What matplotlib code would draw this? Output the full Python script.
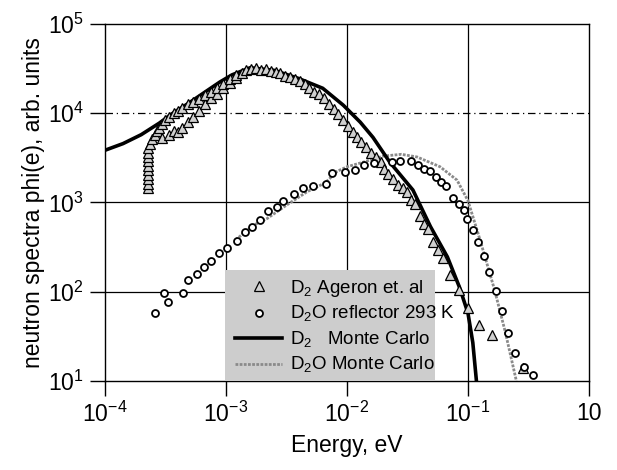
import matplotlib
matplotlib.use("Agg")
import matplotlib.pyplot as plt
import numpy as np
from matplotlib.lines import Line2D
from matplotlib.patches import Rectangle

plt.rcParams['font.family'] = ['Liberation Sans', 'DejaVu Sans']
plt.rcParams['mathtext.fontset'] = 'custom'
plt.rcParams['mathtext.rm'] = 'Liberation Sans'

# ---- data (log10 values) ----
# D2 Ageron et al. (triangles)
ageron_logE = [-3.64, -3.64, -3.64, -3.64, -3.64, -3.64, -3.64, -3.64, -3.64, -3.64,
               -3.63, -3.61, -3.59, -3.57, -3.55, -3.53, -3.53, -3.50, -3.47, -3.47,
               -3.43, -3.43, -3.40, -3.40, -3.36, -3.36, -3.31, -3.31, -3.27, -3.27,
               -3.22, -3.22, -3.17, -3.17, -3.12, -3.12, -3.07, -3.07, -3.02, -3.02,
               -2.97, -2.97, -2.92, -2.92, -2.87, -2.83, -2.79, -2.75, -2.71, -2.67,
               -2.63, -2.59, -2.55, -2.51, -2.47, -2.43, -2.39, -2.35, -2.31, -2.27,
               -2.23, -2.19, -2.15, -2.11, -2.07, -2.03, -1.99, -1.95, -1.92, -1.88,
               -1.84, -1.80, -1.76, -1.72, -1.69, -1.66, -1.62, -1.58, -1.54, -1.50,
               -1.47, -1.44, -1.40, -1.36, -1.33, -1.29, -1.25, -1.21, -1.15, -1.07,
               -1.00, -0.91, -0.80, -0.545]
ageron_logPhi = [3.16, 3.21, 3.26, 3.31, 3.36, 3.41, 3.46, 3.51, 3.56, 3.61,
                 3.66, 3.71, 3.76, 3.80, 3.84, 3.72, 3.88, 3.92, 3.76, 3.96,
                 3.80, 4.00, 3.79, 4.03, 3.84, 4.06, 3.90, 4.10, 3.96, 4.13,
                 4.02, 4.16, 4.10, 4.20, 4.17, 4.24, 4.22, 4.28, 4.28, 4.33,
                 4.34, 4.38, 4.40, 4.43, 4.45, 4.48, 4.50, 4.51, 4.49, 4.50,
                 4.47, 4.46, 4.45, 4.42, 4.41, 4.38, 4.36, 4.33, 4.28, 4.24,
                 4.22, 4.17, 4.10, 4.05, 3.99, 3.93, 3.86, 3.79, 3.73, 3.68,
                 3.62, 3.56, 3.51, 3.45, 3.38, 3.32, 3.26, 3.20, 3.16, 3.12,
                 3.03, 2.98, 2.85, 2.76, 2.70, 2.56, 2.47, 2.38, 2.19, 2.02,
                 1.82, 1.63, 1.51, 1.15]

# D2O reflector 293 K (circles)
refl_logE = [-3.587, -3.51, -3.477, -3.353, -3.317, -3.242, -3.182, -3.127, -3.055, -2.994,
             -2.912, -2.843, -2.788, -2.72, -2.65, -2.58, -2.53, -2.44, -2.36, -2.28,
             -2.17, -2.12, -2.02, -1.93, -1.86, -1.78, -1.63, -1.56, -1.47, -1.41,
             -1.36, -1.31, -1.26, -1.22, -1.18, -1.12, -1.07, -1.03, -1.01, -0.96,
             -0.915, -0.87, -0.83, -0.77, -0.72, -0.67, -0.61, -0.54, -0.465]
refl_logPhi = [1.759, 1.99, 1.889, 1.99, 2.128, 2.199, 2.277, 2.345, 2.43, 2.487,
               2.572, 2.67, 2.73, 2.80, 2.90, 2.95, 3.02, 3.09, 3.16, 3.18,
               3.21, 3.33, 3.34, 3.36, 3.42, 3.44, 3.45, 3.47, 3.46, 3.42,
               3.38, 3.35, 3.29, 3.23, 3.18, 3.05, 2.98, 2.92, 2.82, 2.69,
               2.56, 2.40, 2.22, 2.01, 1.78, 1.54, 1.31, 1.16, 1.07]

# D2 Monte Carlo (thick black line)
d2mc_logE = [-3.99, -3.85, -3.70, -3.55, -3.45, -3.30, -3.17, -3.05, -2.95, -2.80,
             -2.60, -2.40, -2.20, -2.03, -1.89, -1.785, -1.645, -1.455, -1.31, -1.17,
             -1.07, -1.00, -0.96, -0.93]
d2mc_logPhi = [3.59, 3.66, 3.76, 3.89, 3.99, 4.12, 4.24, 4.35, 4.43, 4.51,
               4.48, 4.39, 4.28, 4.09, 3.90, 3.73, 3.45, 3.14, 2.73, 2.39,
               2.05, 1.76, 1.43, 1.00]

# D2O Monte Carlo (thin gray line)
d2omc_logE = [-2.92, -2.78, -2.66, -2.50, -2.33, -2.18, -2.08, -2.00, -1.87, -1.70,
              -1.55, -1.42, -1.23, -1.09, -1.00, -0.90, -0.78, -0.69, -0.64, -0.60]
d2omc_logPhi = [2.58, 2.74, 2.82, 2.97, 3.12, 3.22, 3.35, 3.40, 3.45, 3.52,
                3.54, 3.51, 3.40, 3.25, 3.02, 2.58, 2.02, 1.54, 1.24, 1.00]

xticks = [1e-4, 1e-3, 1e-2, 1e-1, 1]
xticklabels = [r'10$^{-4}$', r'10$^{-3}$', r'10$^{-2}$', r'10$^{-1}$', '10']
yticks = [1e1, 1e2, 1e3, 1e4, 1e5]
yticklabels = [r'10$^{1}$', r'10$^{2}$', r'10$^{3}$', r'10$^{4}$', r'10$^{5}$']

legend_labels = [r'D$_2$ Ageron et. al', r'D$_2$O reflector 293 K',
                 r'D$_2$   Monte Carlo', r'D$_2$O Monte Carlo']

def p10(v):
    return np.power(10.0, np.asarray(v))

fig = plt.figure(figsize=(6.17, 4.70), dpi=100)
ax = fig.add_axes([0.170, 0.1894, 0.7846, 0.7595])
ax.set_xscale('log')
ax.set_yscale('log')
ax.set_xlim(1e-4, 1)
ax.set_ylim(10, 1e5)

# grid
for yv in yticks[1:-1]:
    ax.axhline(yv, color='black', lw=0.9,
               ls=(0, (6, 3, 1, 3)) if yv == 1e4 else '-', zorder=1)
for xv in xticks[1:-1]:
    ax.axvline(xv, color='black', lw=0.9, zorder=1)

ax.plot(p10(d2omc_logE), p10(d2omc_logPhi), color='#8a8a8a', lw=2.0,
        ls=(0, (1, 0.5)), zorder=3)
ax.plot(p10(d2mc_logE), p10(d2mc_logPhi), color='black', lw=2.6, zorder=4)
ax.plot(p10(ageron_logE), p10(ageron_logPhi), ls='none', marker='^', ms=7,
        mfc='#d0d0d0', mec='black', mew=0.9, zorder=5)
ax.plot(p10(refl_logE), p10(refl_logPhi), ls='none', marker='o', ms=5,
        mfc='white', mec='black', mew=1.3, zorder=5)

ax.set_xticks(xticks)
ax.set_xticklabels(xticklabels)
ax.set_yticks(yticks)
ax.set_yticklabels(yticklabels)
ax.minorticks_off()
ax.tick_params(axis='both', which='major', direction='out', length=11,
               width=1.0, labelsize=16.5, pad=4)
for s in ax.spines.values():
    s.set_linewidth(1.0)

ax.set_xlabel('Energy, eV', fontsize=16.5, labelpad=5)
ax.set_ylabel('neutron spectra phi(e), arb. units', fontsize=16.5, labelpad=2)

# stippled gray legend background
ax.add_patch(Rectangle((0.248, 0.0), 0.434, 0.311, transform=ax.transAxes,
                       facecolor='#cdcdcd', edgecolor='none', zorder=6))

handles = [
    Line2D([], [], ls='none', marker='^', ms=7, mfc='#d0d0d0', mec='black', mew=0.9),
    Line2D([], [], ls='none', marker='o', ms=5, mfc='white', mec='black', mew=1.3),
    Line2D([], [], color='black', lw=2.6),
    Line2D([], [], color='#8a8a8a', lw=2.0, ls=(0, (1, 0.5))),
]
leg = ax.legend(handles, legend_labels, loc='upper left',
                bbox_to_anchor=(0.269, 0.289), fontsize=13.5, frameon=False,
                handlelength=2.5, handletextpad=0.45,
                labelspacing=0.28, borderpad=0.0, borderaxespad=0.0)
leg.set_zorder(7)

fig.savefig('out.png', dpi=100)
